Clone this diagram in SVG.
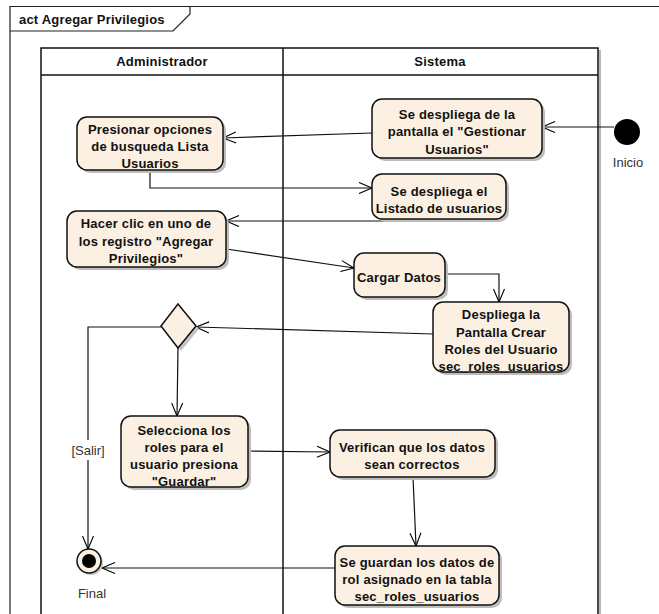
<svg xmlns="http://www.w3.org/2000/svg" width="659" height="614" viewBox="0 0 659 614">
<defs>
<marker id="arr" markerUnits="userSpaceOnUse" markerWidth="16" markerHeight="14" refX="14" refY="7" orient="auto">
<path d="M1,1.5 L14,7 L1,12.5" fill="none" stroke="#000" stroke-width="1.1"/>
</marker>
</defs>
<style>
.frame{fill:none;stroke:#222;stroke-width:1.2}
.lane{fill:none;stroke:#111;stroke-width:1.5}
.lshadow{stroke:#b8b8b8;stroke-width:2}
.node{fill:#FBF0E1;stroke:#111;stroke-width:1.5}
.shadow{fill:#bdbdbd}
.t{font-family:"Liberation Sans",Arial,sans-serif;font-size:13px;font-weight:bold;fill:#111;text-anchor:middle;letter-spacing:0.2px}
.l{font-family:"Liberation Sans",Arial,sans-serif;font-size:13px;fill:#333;text-anchor:middle}
.c{fill:none;stroke:#111;stroke-width:1.2;marker-end:url(#arr)}
</style>
<rect width="659" height="614" fill="#fff"/>
<g id="frame">
<path class="frame" d="M10,614 V6.5 H660"/>
<path class="frame" d="M10,31 H173 L190,14 V6.5"/>
<text class="t" x="19" y="24" style="text-anchor:start">act Agregar Privilegios</text>
</g>
<g id="lanes">
<line class="lshadow" x1="600" y1="50" x2="600" y2="614"/>
<rect class="lane" x="41" y="48" width="557" height="580"/>
<line class="lane" x1="41" y1="75" x2="598" y2="75"/>
<line class="lane" x1="283" y1="48" x2="283" y2="614"/>
<text class="t" x="162" y="66">Administrador</text>
<text class="t" x="440" y="66">Sistema</text>
</g>
<g id="connectors">
<path class="c" d="M614,127 L542,127"/>
<path class="c" d="M372,133 L223,138"/>
<path class="c" d="M150,170 V188 H372"/>
<path class="c" d="M398,221 H226"/>
<path class="c" d="M226,249 L354,268"/>
<path class="c" d="M445,274 H499 V302"/>
<path class="c" d="M433,334 L196,327"/>
<path class="c" d="M161,327 H88 V549"/>
<path class="c" d="M178,348 L177,416"/>
<path class="c" d="M248,451 L330,452"/>
<path class="c" d="M413,477 L416,546"/>
<path class="c" d="M335,568 L102,568"/>
<rect x="71" y="440" width="35" height="20" fill="#fff"/>
<text class="l" x="88" y="455">[Salir]</text>
</g>
<g id="inicio">
<circle cx="627" cy="132" r="13" fill="#000"/>
<text class="l" x="628" y="167">Inicio</text>
</g>
<g id="n1">
<rect class="shadow" x="80" y="120" width="146" height="53" rx="10"/>
<rect class="node" x="77" y="117" width="146" height="53" rx="10"/>
<text class="t" x="150" y="134">Presionar opciones</text>
<text class="t" x="150" y="151">de busqueda Lista</text>
<text class="t" x="150" y="168">Usuarios</text>
</g>
<g id="n2">
<rect class="shadow" x="375" y="102" width="170" height="59" rx="10"/>
<rect class="node" x="372" y="99" width="170" height="59" rx="10"/>
<text class="t" x="457" y="119">Se despliega de la</text>
<text class="t" x="457" y="136">pantalla el "Gestionar</text>
<text class="t" x="457" y="154">Usuarios"</text>
</g>
<g id="n3">
<rect class="shadow" x="375" y="177" width="134" height="45" rx="10"/>
<rect class="node" x="372" y="174" width="134" height="45" rx="10"/>
<text class="t" x="439" y="196">Se despliega el</text>
<text class="t" x="439" y="213">Listado de usuarios</text>
</g>
<g id="n4">
<rect class="shadow" x="70" y="214" width="159" height="56" rx="10"/>
<rect class="node" x="67" y="211" width="159" height="56" rx="10"/>
<text class="t" x="146" y="228">Hacer clic en uno de</text>
<text class="t" x="146" y="246">los registro "Agregar</text>
<text class="t" x="146" y="263">Privilegios"</text>
</g>
<g id="n5">
<rect class="shadow" x="357" y="256" width="91" height="44" rx="10"/>
<rect class="node" x="354" y="253" width="91" height="44" rx="10"/>
<text class="t" x="399" y="282">Cargar Datos</text>
</g>
<g id="n6">
<rect class="shadow" x="436" y="305" width="136" height="70" rx="10"/>
<rect class="node" x="433" y="302" width="136" height="70" rx="10"/>
<text class="t" x="501" y="319">Despliega la</text>
<text class="t" x="501" y="337">Pantalla Crear</text>
<text class="t" x="501" y="354">Roles del Usuario</text>
<text class="t" x="501" y="371">sec_roles_usuarios</text>
</g>
<g id="decision">
<polygon points="181,307 199,329 181,351 164,329" fill="#c4c4c4"/>
<polygon points="178,304 196,326 178,348 161,326" class="node"/>
</g>
<g id="n7">
<rect class="shadow" x="124" y="419" width="127" height="71" rx="10"/>
<rect class="node" x="121" y="416" width="127" height="71" rx="10"/>
<text class="t" x="184" y="435">Selecciona los</text>
<text class="t" x="184" y="452">roles para el</text>
<text class="t" x="184" y="469">usuario presiona</text>
<text class="t" x="184" y="486">"Guardar"</text>
</g>
<g id="n8">
<rect class="shadow" x="333" y="433" width="165" height="47" rx="10"/>
<rect class="node" x="330" y="430" width="165" height="47" rx="10"/>
<text class="t" x="412" y="452">Verifican que los datos</text>
<text class="t" x="412" y="469">sean correctos</text>
</g>
<g id="n9">
<rect class="shadow" x="338" y="549" width="164" height="59" rx="10"/>
<rect class="node" x="335" y="546" width="164" height="59" rx="10"/>
<text class="t" x="417" y="567">Se guardan los datos de</text>
<text class="t" x="417" y="584">rol asignado en la tabla</text>
<text class="t" x="417" y="601">sec_roles_usuarios</text>
</g>
<g id="final">
<circle cx="91" cy="563" r="12" fill="#c4c4c4"/>
<circle cx="89" cy="561" r="12" class="node"/>
<circle cx="89" cy="561" r="7" fill="#000"/>
<text class="l" x="92" y="598">Final</text>
</g>
</svg>
